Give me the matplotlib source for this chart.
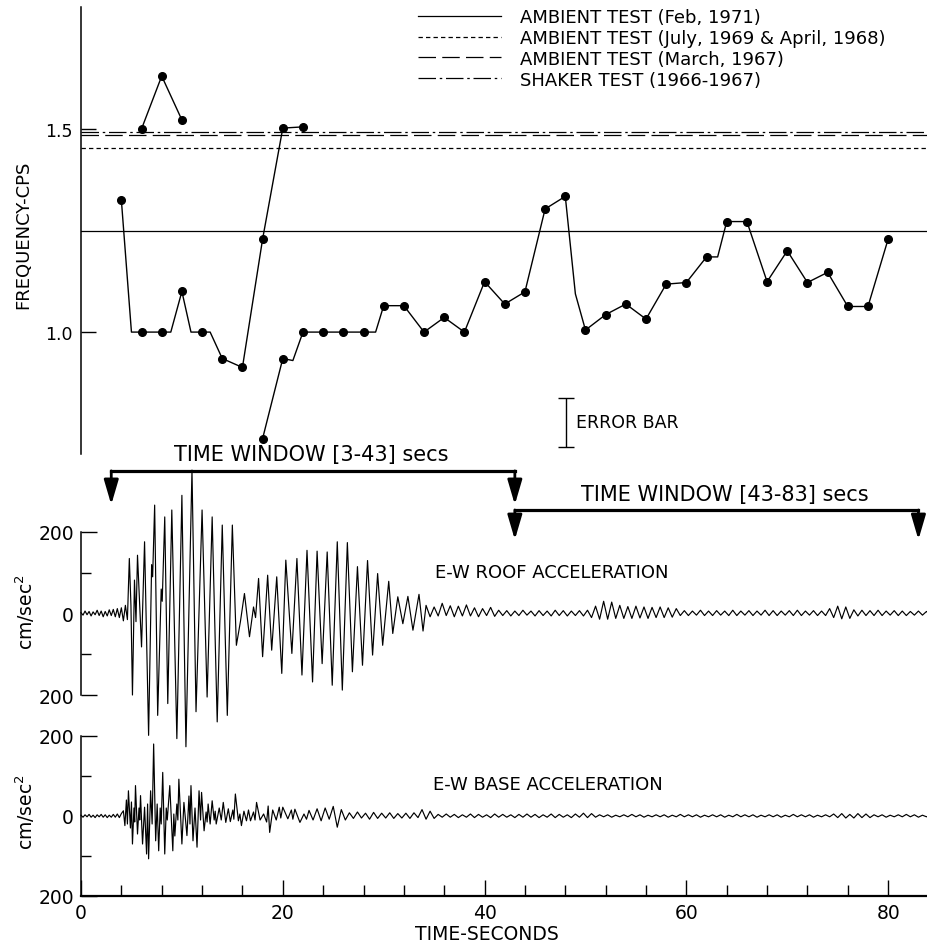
import numpy as np
import matplotlib
matplotlib.use('Agg')
import matplotlib.pyplot as plt

# ---- frequency estimates (every 2 s, plus the bends of the pen line) ----
fa_t = [6, 8, 10]
fa_f = [1.50, 1.63, 1.522]

fb_t = [4, 5, 6, 8, 8.9, 10, 10.9, 12, 12.8, 14, 16, 18, 20, 22]
fb_f = [1.325, 1.0, 1.0, 1.0, 1.0, 1.10, 1.0, 1.0, 1.0, 0.935, 0.913, 1.229, 1.502, 1.505]

fc_t = [18, 20, 21, 22, 24, 26, 28, 29.2, 30, 32,
        34, 36, 38, 40, 42, 44, 46, 48, 49, 50,
        52, 54, 56, 58, 60, 62, 63.1, 64, 66, 68,
        70, 72, 74, 76, 78, 80]
fc_f = [0.738, 0.935, 0.93, 1.0, 1.0, 1.0, 1.0, 1.0, 1.065, 1.065,
        1.0, 1.036, 1.0, 1.124, 1.069, 1.099, 1.303, 1.334, 1.094, 1.005,
        1.043, 1.069, 1.032, 1.118, 1.122, 1.185, 1.185, 1.272, 1.272, 1.124,
        1.20, 1.122, 1.147, 1.063, 1.063, 1.229]

ref_labels = ['AMBIENT TEST (Feb, 1971)',
              'AMBIENT TEST (July, 1969 & April, 1968)',
              'AMBIENT TEST (March, 1967)',
              'SHAKER TEST (1966-1967)']
ref_freq = [1.25, 1.452, 1.484, 1.492]
ref_style = ['-', (0, (3.5, 2.5)), (0, (14, 5)), (0, (14, 3, 2, 3))]

err_t = 48.1
err_lo, err_hi = 0.716, 0.837

win_start = [3, 43]
win_end = [43, 83]

# ---- E-W roof acceleration (cm/sec^2) ----
roof_pre = [2, -4, 6, -3, 5, -6, 4, -3, 8, -5, 6, -8, 5, -6, 9, -5, 10, -8, 12, -10,
            14, -18, 20]  # 0.2 s apart from t=0
roof_t = [4.6, 4.79, 4.95, 5.1, 5.3, 5.45, 5.6, 6.0, 6.3, 6.7,
          7.0, 7.1, 7.3, 7.6, 7.95, 8.05, 8.3, 8.6, 9.0, 9.5,
          10.0, 10.4, 11.0, 11.4, 12.0, 12.5, 13.0, 13.5, 14.0, 14.5,
          15.0, 15.4, 15.8, 16.2, 16.7, 17.1, 17.3, 17.6, 18.0, 18.5,
          18.9, 19.4, 19.9, 20.3, 20.9, 21.4, 21.9, 22.4, 22.95, 23.4,
          23.9, 24.4, 24.9, 25.4, 25.9, 26.4, 26.9, 27.4, 27.9, 28.4,
          28.9, 29.4, 29.9, 30.5, 30.9, 31.4, 31.9, 32.4, 32.9, 33.5,
          33.9]
roof_a = [-15, 135, 20, -200, 82, -20, 143, -82, 176, -299,
          120, 90, 266, -250, 60, 30, 237, -221, 254, -307,
          290, -327, 352, -241, 254, -205, 237, -266, 217, -250,
          217, -78, -20, 49, -57, 16, -10, 86, -106, 94,
          -90, 90, -147, 131, -98, 135, -151, 155, -168, 153,
          -123, 151, -176, 176, -188, 174, -143, 115, -127, 130,
          -102, 98, -78, 79, -49, 41, -25, 42, -41, 47,
          -43]
roof_tail = [20, -8, 16, -6, 25, -5, 19, -8, 18, -6,
             21, -6, 14, -8, 12, -5, 15, -7,
             8, -5, 7, -6, 6, -5, 8, -4, 6, -6, 7, -5, 6, -6, 8, -5, 7, -6, 6, -5, 7, -6, 8,
             -10, 18, -14, 30, -14, 28,
             -12, 20, -12, 17, -12, 18, -11, 16, -12, 15, -10, 16, -10, 14, -9, 12,
             -5, 7, -5, 6, -4, 8, -5, 6, -5, 7, -4, 6, -5, 8, -5, 6, -4, 7, -5, 6,
             -4, 8, -5, 7, -5, 6, -4, 7, -5, 8, -5, 6, -4, 7, -5, 6, -5,
             12, -10, 18, -13, 16, -12,
             9, -6, 8, -5, 7, -5, 8, -5, 6, -4, 7, -5, 6, -5, 5, -4, 6, -4, 5, -4]  # 0.4 s apart from t=34.2

# ---- E-W base acceleration (cm/sec^2) ----
base_pre = [2, -3, 3, -2, 4, -3, 2, -4, 3, -2, 4, -3, 3, -4, 2, -3, 4, -3, 5, -4, 6]  # 0.2 s apart
base_t = [4.20, 4.35, 4.50, 4.60, 4.70, 4.90, 5.00, 5.10, 5.25, 5.32,
          5.40, 5.60, 5.75, 5.82, 5.90, 6.10, 6.30, 6.50, 6.60, 6.70,
          6.90, 7.05, 7.20, 7.40, 7.55, 7.70, 7.85, 7.95, 8.10, 8.30,
          8.45, 8.55, 8.80, 9.10, 9.20, 9.30, 9.50, 9.60, 9.70, 10.00,
          10.20, 10.50, 10.70, 10.80, 10.90, 11.10, 11.30, 11.50, 11.70, 11.85,
          11.95, 12.20, 12.40, 12.50, 12.60, 12.80, 13.00, 13.20, 13.30, 13.40,
          13.70, 13.90, 14.10, 14.35, 14.60, 14.80, 15.05, 15.15, 15.30, 15.60,
          15.75, 15.90, 16.15, 16.40, 16.60, 16.80, 17.10, 17.25, 17.40, 17.75,
          18.10, 18.40, 18.55, 18.70, 19.00, 19.35, 19.65, 19.80, 20.00, 20.50,
          20.85, 21.00, 21.20, 21.70, 22.10, 22.35]
base_a = [13, -24, 40, -20, 63, -30, 35, -70, 20, -15,
          76, -45, 20, -10, 51, -70, 22, -95, 30, -107,
          63, -20, 180, -62, 30, -87, 20, -20, 109, -95,
          20, -10, 76, -87, 5, -50, 30, -10, 92, -70,
          34, -49, 50, -20, 76, -62, 20, -78, 63, -10,
          59, -37, 10, -15, 30, -20, 38, -10, 12, -20,
          20, -10, 34, -16, 18, -14, 15, -8, 55, -12,
          5, -24, 12, -12, 15, -12, 10, -10, 34, -10,
          5, -15, 25, -41, 15, -10, 22, -5, 22, -7,
          15, -8, 17, -16, 5, -8]
base_tail = [14, -10, 18, -12, 20, -8, 24, -28, 16, -10,
             8, -6, 10, -5, 7, -8, 9, -6, 7, -5, 8, -6, 6, -5, 7, -6, 8, -4,
             16, -8, 12, -6,
             4, -3, 5, -3, 4, -4, 3, -3, 5, -4, 4, -3, 3, -4, 5, -3, 4, -3,
             3, -4, 4, -3, 5, -3, 4, -4, 3, -3, 5, -4, 4, -3, 3, -4, 5, -3,
             7, -4, 6, -3,
             3, -2, 3, -3, 2, -2, 3, -2, 4, -2, 3, -3, 2, -2, 3, -2, 3, -3, 2, -2,
             4, -2, 3, -2, 3, -3, 2, -2, 3, -2, 3, -3, 2, -2, 4, -2, 3, -2, 3, -3,
             2, -2, 3, -2, 3, -3, 2, -2, 4, -2, 3, -2, 3, -3, 2, -2, 3, -2,
             5, -4, 6, -5, 4, -5, 6, -4, 5, -4,
             3, -2, 3, -3, 2, -2, 3, -2, 4, -2, 3, -3, 2, -2, 3, -2]  # 0.4 s apart from t=22.6

# ---- assemble traces ----
roof_time = np.concatenate([np.arange(len(roof_pre)) * 0.2, roof_t,
                            34.2 + np.arange(len(roof_tail)) * 0.4])
roof_acc = np.concatenate([roof_pre, roof_a, roof_tail])
base_time = np.concatenate([np.arange(len(base_pre)) * 0.2, base_t,
                            22.6 + np.arange(len(base_tail)) * 0.4])
base_acc = np.concatenate([base_pre, base_a, base_tail])

W, H = 927, 945
fig = plt.figure(figsize=(W / 100, H / 100), dpi=100)
plt.rcParams['font.family'] = 'DejaVu Sans'


def rect(x0, y0, x1, y1):
    return [x0 / W, 1 - y1 / H, (x1 - x0) / W, (y1 - y0) / H]


ax_f = fig.add_axes(rect(81, 8, 927, 455))
ax_r = fig.add_axes(rect(81, 533, 927, 696))
ax_b = fig.add_axes(rect(81, 737, 927, 897))
for ax in (ax_f, ax_r, ax_b):
    ax.set_xlim(0, 83.85)
    ax.patch.set_visible(False)
    for s in ('top', 'right', 'bottom'):
        ax.spines[s].set_visible(False)
    ax.spines['left'].set_linewidth(1.1)
ax_b.spines['bottom'].set_visible(True)
ax_b.spines['bottom'].set_linewidth(1.6)

# ---- frequency panel ----
ax_f.set_ylim(0.70, 1.80)
handles = []
for lab, f, ls in zip(ref_labels, ref_freq, ref_style):
    h = ax_f.axhline(f, color='k', lw=0.9, ls=ls)
    handles.append(h)


def dots(ts):
    return [i for i, t in enumerate(ts) if float(t).is_integer() and t % 2 == 0]


for ts, fs in ((fa_t, fa_f), (fb_t, fb_f), (fc_t, fc_f)):
    ax_f.plot(ts, fs, color='k', lw=1.0, marker='o', ms=5.5, markevery=dots(ts))

ax_f.errorbar([err_t], [(err_lo + err_hi) / 2], yerr=[(err_hi - err_lo) / 2],
              fmt='none', ecolor='k', elinewidth=1.0, capsize=6, capthick=1.0)
ax_f.text(err_t + 1.0, 0.778, 'ERROR BAR', fontsize=12.5, va='center', ha='left')

ax_f.set_xticks([])
ax_f.set_yticks([1.0, 1.5])
ax_f.set_yticklabels(['1.0', '1.5'])
ax_f.tick_params(axis='y', direction='in', length=11, width=1.0, pad=6, labelsize=12.5)
ax_f.legend(handles=handles, labels=ref_labels, loc='upper left',
            bbox_to_anchor=(418 / W, 1 - 9 / H), bbox_transform=fig.transFigure,
            frameon=False, borderpad=0, borderaxespad=0, fontsize=13,
            handlelength=4.6, handletextpad=1.05, labelspacing=0.16)
fig.text(23 / W, 1 - 235 / H, 'FREQUENCY-CPS', rotation=90, fontsize=13,
         ha='center', va='center')

# ---- roof panel ----
ax_r.plot(roof_time, roof_acc, color='k', lw=0.85, clip_on=False)
ax_r.set_ylim(-200, 200)
ax_r.set_xticks([])
ax_r.set_yticks([-200, 0, 200])
ax_r.set_yticklabels(['200', '0', '200'])
ax_r.set_yticks([-100, 100], minor=True)
ax_r.yaxis.get_major_ticks()[1].tick1line.set_visible(False)
ax_r.text(35.1, 103, 'E-W ROOF ACCELERATION', fontsize=13, va='center', ha='left')

# ---- base panel ----
ax_b.plot(base_time, base_acc, color='k', lw=0.85, clip_on=False)
ax_b.set_ylim(-200, 200)
ax_b.set_yticks([-200, 0, 200])
ax_b.set_yticklabels(['200', '0', '200'])
ax_b.set_yticks([-100, 100], minor=True)
ax_b.yaxis.get_major_ticks()[1].tick1line.set_visible(False)
ax_b.set_xticks([0, 20, 40, 60, 80])
ax_b.set_xticks([t for t in range(4, 84, 4) if t % 20], minor=True)
ax_b.tick_params(axis='x', which='major', direction='in', length=11.5, width=1.0,
                 pad=5, labelsize=13.5)
ax_b.tick_params(axis='x', which='minor', direction='in', length=7.7, width=1.0)
ax_b.text(34.9, 80, 'E-W BASE ACCELERATION', fontsize=13, va='center', ha='left')

for ax in (ax_r, ax_b):
    ax.tick_params(axis='y', which='major', direction='in', length=11.3, width=1.0,
                   pad=5, labelsize=13.5)
    ax.tick_params(axis='y', which='minor', direction='in', length=7, width=1.0)

fig.text(25 / W, 1 - 612 / H, 'cm/sec$^2$', rotation=90, fontsize=13.5,
         ha='center', va='center')
fig.text(25 / W, 1 - 812 / H, 'cm/sec$^2$', rotation=90, fontsize=13.5,
         ha='center', va='center')
fig.text(487 / W, 1 - 935 / H, 'TIME-SECONDS', fontsize=13.5, ha='center', va='center')

# ---- time window brackets (roof data coordinates) ----
bar_y = [350, 254]
tip_y = [267, 181]
lab_y = [392, 293]
lab_x = [22.8, 63.8]
for t0, t1, by, ty, lx, ly in zip(win_start, win_end, bar_y, tip_y, lab_x, lab_y):
    ax_r.plot([t0, t1], [by, by], color='k', lw=2.3, clip_on=False,
              solid_capstyle='projecting')
    for t in (t0, t1):
        ax_r.annotate('', xy=(t, ty), xytext=(t, by), annotation_clip=False,
                      arrowprops=dict(arrowstyle='-|>,head_length=0.75,head_width=0.22',
                                      lw=2.0, color='k', shrinkA=0, shrinkB=0,
                                      mutation_scale=20))
    ax_r.text(lx, ly, 'TIME WINDOW [%d-%d] secs' % (t0, t1), fontsize=15,
              ha='center', va='center', clip_on=False)

fig.savefig('out.png', dpi=100)
